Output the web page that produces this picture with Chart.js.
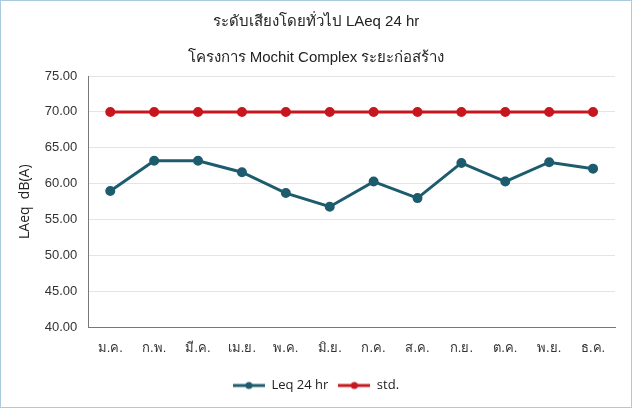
<!DOCTYPE html>
<html>
<head>
<meta charset="utf-8">
<script src="https://cdn.jsdelivr.net/npm/chart.js@4"></script>
<style>
  html, body { margin: 0; padding: 0; background: #fff; }
  #wrap { width: 630px; height: 406px; border: 1px solid #a9cbe0; position: relative; }
</style>
</head>
<body>
<div id="wrap"><canvas id="myChart" width="630" height="406"></canvas></div>
<script>
// monthly noise levels
const months = ["ม.ค.", "ก.พ.", "มี.ค.", "เม.ย.", "พ.ค.", "มิ.ย.", "ก.ค.", "ส.ค.", "ก.ย.", "ต.ค.", "พ.ย.", "ธ.ค."];
const leq24 = [59.0, 63.2, 63.2, 61.6, 58.7, 56.8, 60.3, 58.0, 62.9, 60.3, 63.0, 62.1];
const stdLimit = [70, 70, 70, 70, 70, 70, 70, 70, 70, 70, 70, 70];
const titleLines = ["ระดับเสียงโดยทั่วไป LAeq 24 hr", "โครงการ Mochit Complex ระยะก่อสร้าง"];

const tealColor = "#1d5c6e";
const redColor = "#c8161e";
const tickFont = "Liberation Sans Narrow, Liberation Sans, sans-serif";

// little "line with a dot" swatch for the legend
function legendSwatch(color) {
  var c = document.createElement("canvas");
  c.width = 32;
  c.height = 10;
  var g = c.getContext("2d");
  g.strokeStyle = color;
  g.lineWidth = 3;
  g.beginPath();
  g.moveTo(0, 5);
  g.lineTo(32, 5);
  g.stroke();
  g.fillStyle = color;
  g.beginPath();
  g.arc(16, 5, 3.5, 0, Math.PI * 2);
  g.fill();
  return c;
}

const ctx = document.getElementById("myChart");
new Chart(ctx, {
  type: "line",
  data: {
    labels: months,
    datasets: [
      {
        label: "Leq 24 hr",
        data: leq24,
        borderColor: tealColor,
        backgroundColor: tealColor,
        borderWidth: 3,
        pointRadius: 3.5,
        pointHoverRadius: 3.5,
        tension: 0,
      },
      {
        label: "std.",
        data: stdLimit,
        borderColor: redColor,
        backgroundColor: redColor,
        borderWidth: 3,
        pointRadius: 3.5,
        pointHoverRadius: 3.5,
        tension: 0,
      },
    ],
  },
  options: {
    responsive: false,
    animation: false,
    layout: { padding: { left: 16, right: 16, top: 3, bottom: 5 } },
    plugins: {
      title: {
        display: true,
        text: titleLines,
        color: "#222",
        font: { family: "Liberation Sans, sans-serif", size: 15, weight: "normal", lineHeight: 2.4 },
        padding: { top: 0, bottom: 0 },
      },
      legend: {
        position: "bottom",
        labels: {
          color: "#222",
          font: { family: "Open Sans, sans-serif", size: 13 },
          usePointStyle: true,
          pointStyleWidth: 32,
          padding: 10,
          generateLabels: function (chart) {
            var items = Chart.defaults.plugins.legend.labels.generateLabels(chart);
            items.forEach(function (it, i) {
              it.pointStyle = legendSwatch(chart.data.datasets[i].borderColor);
            });
            return items;
          },
        },
      },
      tooltip: { enabled: false },
    },
    scales: {
      x: {
        offset: true,
        grid: { display: false, drawTicks: false },
        border: { color: "#777", width: 1 },
        ticks: {
          color: "#333",
          padding: 13,
          font: { family: tickFont, size: 13 },
        },
      },
      y: {
        min: 40,
        max: 75,
        grid: { color: "#e4e4e4", drawTicks: false },
        border: { color: "#777", width: 1 },
        ticks: {
          stepSize: 5,
          color: "#333",
          padding: 11,
          font: { family: tickFont, size: 13 },
          callback: function (v) { return v.toFixed(2); },
        },
        title: {
          display: true,
          text: "LAeq  dB(A)",
          color: "#222",
          font: { family: "Open Sans, sans-serif", size: 14 },
          padding: { top: 0, bottom: 0 },
        },
      },
    },
  },
});
</script>
</body>
</html>
